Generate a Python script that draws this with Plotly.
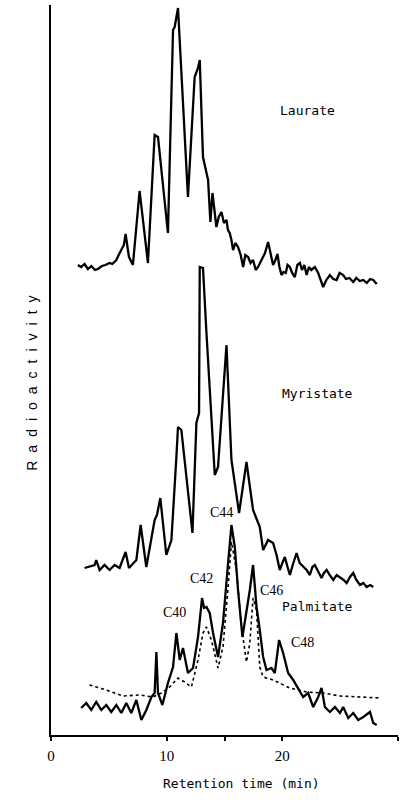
import plotly.graph_objects as go

# Retention time (min) and radioactivity (arbitrary units, traces stacked as in the figure)
laurate_t = [2.32, 2.6, 2.9, 3.19, 3.5, 3.8, 4.05, 4.4, 4.7, 5.06, 5.3, 5.65, 5.85, 6.08, 6.3, 6.45,
             6.74, 7.08, 7.66, 8.38, 8.96, 9.25, 10.11,
             10.55, 10.69, 10.98, 11.41, 11.84, 12.42, 12.71, 12.86, 13.14, 13.58, 13.78, 13.96,
             14.30, 14.5, 14.74, 14.95, 15.17, 15.3, 15.45, 15.6, 15.74, 15.95, 16.17, 16.4, 16.61,
             16.8, 17.04, 17.25, 17.47, 17.7, 17.90, 18.2, 18.5, 18.77, 19.0, 19.20, 19.4, 19.58,
             19.75, 19.93, 20.1, 20.3, 20.45, 20.65, 20.85, 21.08, 21.3, 21.52, 21.7, 21.9, 22.10,
             22.3, 22.5, 22.81, 23.1, 23.3, 23.53, 23.8, 24.11, 24.4, 24.69, 24.95, 25.26, 25.5,
             25.8, 26.13, 26.4, 26.7, 27.0, 27.3, 27.6, 27.86, 28.16]
laurate_y = [470, 468, 471, 466, 469, 465, 466, 469, 470, 472, 471, 475, 480, 485, 490, 501,
             478, 470, 544, 472, 600, 598, 502,
             705, 708, 727, 635, 538, 658, 667, 675, 578, 555, 513, 542,
             508, 518, 523, 512, 515, 505, 502, 495, 485, 492, 488, 480, 468,
             480, 478, 472, 475, 465, 468, 475, 482, 493, 480, 470, 475, 481,
             468, 460, 463, 462, 470, 468, 462, 458, 470, 472, 465, 470, 460,
             468, 465, 468, 462, 455, 448, 455, 460, 456, 455, 462, 460, 456,
             457, 453, 457, 454, 455, 452, 456, 455, 451]

myristate_t = [2.90, 3.77, 3.91, 4.20, 4.63, 5.06, 5.50, 5.93, 6.45, 6.74, 7.38, 7.75, 8.24,
               8.96, 9.16, 9.45, 9.97, 10.41, 10.84, 10.98, 11.27, 11.71, 12.23, 12.57, 12.80,
               12.86, 13.14, 13.44, 13.87, 14.16, 14.44, 14.87, 15.17, 15.60, 16.26, 16.90,
               17.47, 18.05, 18.34, 18.77, 19.20, 19.5, 19.78, 20.0, 20.22, 20.45, 20.65, 20.9,
               21.23, 21.5, 21.80, 22.1, 22.38, 22.6, 22.81, 23.1, 23.39, 23.6, 23.83, 24.1,
               24.40, 24.7, 24.98, 25.3, 25.56, 25.85, 26.13, 26.4, 26.71, 27.0, 27.29, 27.6, 27.86]
myristate_y = [167, 170, 175, 165, 170, 165, 170, 167, 183, 167, 175, 210, 168,
               215, 220, 237, 180, 195, 278, 308, 305, 258, 202, 312, 322,
               468, 467, 402, 318, 260, 268, 345, 390, 275, 222, 273,
               225, 208, 185, 195, 192, 180, 165, 172, 178, 168, 160, 170,
               182, 172, 168, 165, 160, 168, 170, 163, 157, 162, 165, 160,
               155, 160, 158, 155, 152, 158, 162, 155, 150, 152, 148, 150, 148]

palmitate_t = [2.61, 3.05, 3.48, 3.91, 4.35, 4.78, 5.21, 5.65, 6.08, 6.51, 6.94, 7.38, 7.81,
               8.24, 8.68, 8.96, 9.11, 9.25, 9.63, 10.11, 10.55, 10.84, 11.13, 11.41, 11.84,
               12.28, 12.71, 13.06, 13.23, 13.44, 13.72, 14.01, 14.44, 14.87, 15.31, 15.60,
               15.89, 16.17, 16.55, 16.90, 17.19, 17.47, 17.77, 18.05, 18.34, 18.63, 19.06,
               19.35, 19.72, 20.07, 20.50, 20.94, 21.37, 21.80, 22.23, 22.67, 23.10, 23.39,
               23.68, 24.11, 24.55, 24.98, 25.26, 25.70, 26.13, 26.56, 27.00, 27.58, 27.86, 28.16]
palmitate_y = [27, 32, 25, 33, 25, 30, 23, 30, 22, 32, 22, 35, 15,
               25, 38, 42, 83, 42, 30, 52, 68, 102, 75, 87, 62,
               67, 98, 137, 127, 128, 122, 102, 78, 112, 172, 210,
               188, 145, 98, 122, 145, 170, 128, 105, 78, 65, 67,
               62, 95, 82, 62, 55, 47, 38, 42, 28, 38, 47,
               28, 23, 28, 22, 28, 17, 22, 15, 18, 23, 12, 10]

reference_t = [3.33, 4.78, 6.22, 7.66, 8.81, 9.54, 10.26, 10.98, 11.56, 12.14, 12.71, 13.14,
               13.44, 13.87, 14.44, 14.87, 15.31, 15.60, 16.03, 16.47, 16.90, 17.19, 17.47,
               17.77, 18.05, 18.34, 19.20, 20.65, 22.10, 23.53, 24.98, 26.42, 28.44]
reference_y = [50, 45, 39, 40, 38, 42, 48, 57, 53, 48, 75, 102,
               108, 95, 67, 88, 148, 193, 165, 108, 73, 92, 137,
               125, 68, 58, 55, 47, 43, 42, 39, 38, 37]

x_tick_vals = [0, 10, 15, 20, 30]
x_tick_text = ["0", "10", "", "20", ""]

mono = "DejaVu Sans Mono"
serif = "Liberation Serif"

fig = go.Figure()
fig.add_trace(go.Scatter(x=reference_t, y=reference_y, mode="lines",
                         line=dict(color="black", width=1.6, dash="dot"), name="standard"))
for t, y, nm in [(laurate_t, laurate_y, "Laurate"),
                 (myristate_t, myristate_y, "Myristate"),
                 (palmitate_t, palmitate_y, "Palmitate")]:
    fig.add_trace(go.Scatter(x=t, y=y, mode="lines",
                             line=dict(color="black", width=2.3), name=nm))

labels = [("Laurate", 22.2, 625, mono), ("Myristate", 23.0, 342, mono),
          ("Palmitate", 23.0, 129, mono), ("C44", 14.78, 223, serif),
          ("C42", 13.05, 157, serif), ("C40", 10.72, 123, serif),
          ("C46", 19.1, 145, serif), ("C48", 21.7, 93, serif)]
for txt, ax, ay, fam in labels:
    fig.add_annotation(x=ax, y=ay, xref="x", yref="y", text=txt, showarrow=False,
                       font=dict(family=fam, size=13 if fam == mono else 14, color="black"))

fig.add_annotation(x=0.55, y=-0.08, xref="paper", yref="paper",
                   text="Retention time (min)", showarrow=False,
                   font=dict(family=mono, size=13, color="black"))
fig.add_annotation(x=-0.0836, y=0.488, xref="paper", yref="paper",
                   text='<span style="letter-spacing:8px">Radioactivity</span>',
                   textangle=-90, showarrow=False,
                   font=dict(family="Liberation Sans", size=14, color="black"))

fig.update_layout(
    width=401, height=802,
    margin=dict(l=51, r=3, t=5, b=67),
    paper_bgcolor="white", plot_bgcolor="white",
    showlegend=False,
    xaxis=dict(range=[0, 30], showgrid=False, zeroline=False, showline=True,
               linecolor="black", linewidth=1.5, ticks="outside", ticklen=4,
               tickcolor="black", tickwidth=1.5,
               tickvals=x_tick_vals, ticktext=x_tick_text, ticklabelstandoff=2,
               tickfont=dict(family=serif, size=15, color="black")),
    yaxis=dict(range=[0, 730], showgrid=False, zeroline=False, showline=True,
               linecolor="black", linewidth=1.5, showticklabels=False, ticks=""),
)

fig.write_html("out.html")
